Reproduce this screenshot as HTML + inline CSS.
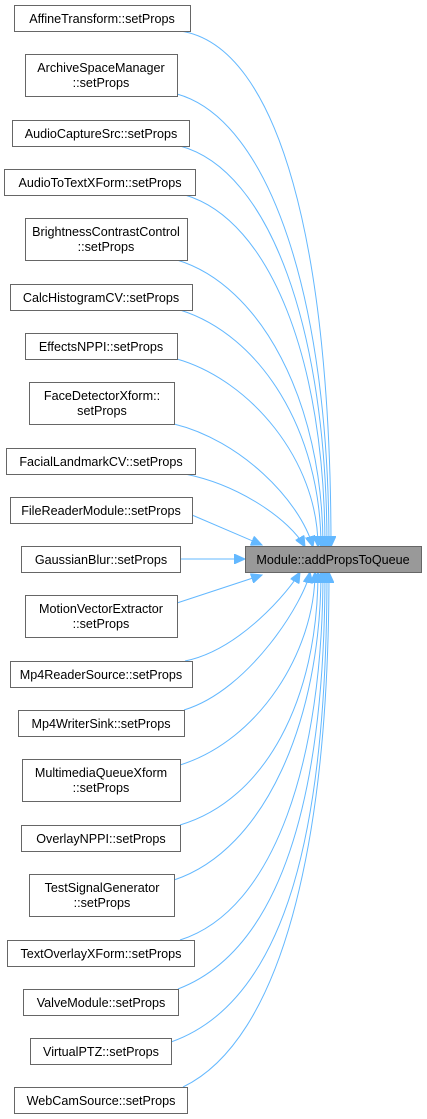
<!DOCTYPE html>
<html><head><meta charset="utf-8"><style>
html,body{margin:0;padding:0;background:#fff;}
svg{display:block;}
text{font-family:"Liberation Sans",Arial,sans-serif;font-size:12.6px;fill:#000;}
</style></head><body>
<svg width="427" height="1119" viewBox="0 0 427 1119" xmlns="http://www.w3.org/2000/svg">
<defs>
<marker id="a" markerUnits="userSpaceOnUse" markerWidth="12" markerHeight="10" refX="11" refY="5" orient="auto">
<path d="M0,0 L11,5 L0,10 z" fill="#63b8ff" stroke="#63b8ff"/>
</marker>
</defs>
<g fill="none" stroke="#63b8ff" stroke-width="1" marker-end="url(#a)">
<path d="M180,31 C280,45 331,250 331,547"/>
<path d="M177,94 C270,120 329,300 329,547"/>
<path d="M180,146 C270,170 327,330 327,547"/>
<path d="M185,195 C270,220 325,360 325,547"/>
<path d="M177,260 C260,285 323,400 323,547"/>
<path d="M180,310 C260,335 321,430 321,547"/>
<path d="M177,359 C250,380 318,460 318,547"/>
<path d="M174,424 C240,440 300,500 313,547"/>
<path d="M185,474 C240,485 290,520 305,547"/>
<path d="M192,515 L262,545"/>
<path d="M180,559 L245,559"/>
<path d="M177,603 L262,575"/>
<path d="M185,661 C240,650 290,590 300,572"/>
<path d="M184,710 C250,690 305,600 310,572"/>
<path d="M180,765 C260,740 315,650 315,572"/>
<path d="M180,825 C265,800 318,700 318,572"/>
<path d="M174,880 C265,850 321,720 321,572"/>
<path d="M180,940 C275,910 323,760 323,572"/>
<path d="M178,989 C280,950 325,800 325,572"/>
<path d="M171,1042 C290,1000 327,820 327,572"/>
<path d="M183,1087 C280,1040 329,850 329,572"/>
</g>
<g fill="#fff" stroke="#666" stroke-width="1">
<rect x="14.5" y="5.5" width="176" height="26"/>
<rect x="25.5" y="54.5" width="152" height="42"/>
<rect x="12.5" y="120.5" width="177" height="26"/>
<rect x="4.5" y="169.5" width="191" height="26"/>
<rect x="25.5" y="218.5" width="162" height="42"/>
<rect x="10.5" y="284.5" width="182" height="26"/>
<rect x="25.5" y="333.5" width="152" height="26"/>
<rect x="29.5" y="382.5" width="145" height="42"/>
<rect x="6.5" y="448.5" width="189" height="26"/>
<rect x="10.5" y="497.5" width="182" height="26"/>
<rect x="21.5" y="546.5" width="159" height="26"/>
<rect x="25.5" y="595.5" width="152" height="42"/>
<rect x="10.5" y="661.5" width="182" height="26"/>
<rect x="18.5" y="710.5" width="166" height="26"/>
<rect x="22.5" y="759.5" width="158" height="42"/>
<rect x="21.5" y="825.5" width="159" height="26"/>
<rect x="29.5" y="874.5" width="145" height="42"/>
<rect x="7.5" y="940.5" width="187" height="26"/>
<rect x="23.5" y="989.5" width="155" height="26"/>
<rect x="30.5" y="1038.5" width="141" height="26"/>
<rect x="14.5" y="1087.5" width="173" height="26"/>
<rect x="245.5" y="546.5" width="176" height="26" fill="#999"/>
</g>
<g text-anchor="middle">
<text x="102" y="23">AffineTransform::setProps</text>
<text x="101" y="72">ArchiveSpaceManager</text>
<text x="101" y="87">::setProps</text>
<text x="101" y="138">AudioCaptureSrc::setProps</text>
<text x="100" y="187">AudioToTextXForm::setProps</text>
<text x="106" y="236">BrightnessContrastControl</text>
<text x="106" y="251">::setProps</text>
<text x="101" y="302">CalcHistogramCV::setProps</text>
<text x="101" y="351">EffectsNPPI::setProps</text>
<text x="102" y="400">FaceDetectorXform::</text>
<text x="102" y="415">setProps</text>
<text x="101" y="466">FacialLandmarkCV::setProps</text>
<text x="101" y="515">FileReaderModule::setProps</text>
<text x="101" y="564">GaussianBlur::setProps</text>
<text x="101" y="613">MotionVectorExtractor</text>
<text x="101" y="628">::setProps</text>
<text x="101" y="679">Mp4ReaderSource::setProps</text>
<text x="101" y="728">Mp4WriterSink::setProps</text>
<text x="101" y="777">MultimediaQueueXform</text>
<text x="101" y="792">::setProps</text>
<text x="101" y="843">OverlayNPPI::setProps</text>
<text x="102" y="892">TestSignalGenerator</text>
<text x="102" y="907">::setProps</text>
<text x="101" y="958">TextOverlayXForm::setProps</text>
<text x="101" y="1007">ValveModule::setProps</text>
<text x="101" y="1056">VirtualPTZ::setProps</text>
<text x="101" y="1105">WebCamSource::setProps</text>
<text x="333" y="564">Module::addPropsToQueue</text>
</g>
</svg>
</body></html>
